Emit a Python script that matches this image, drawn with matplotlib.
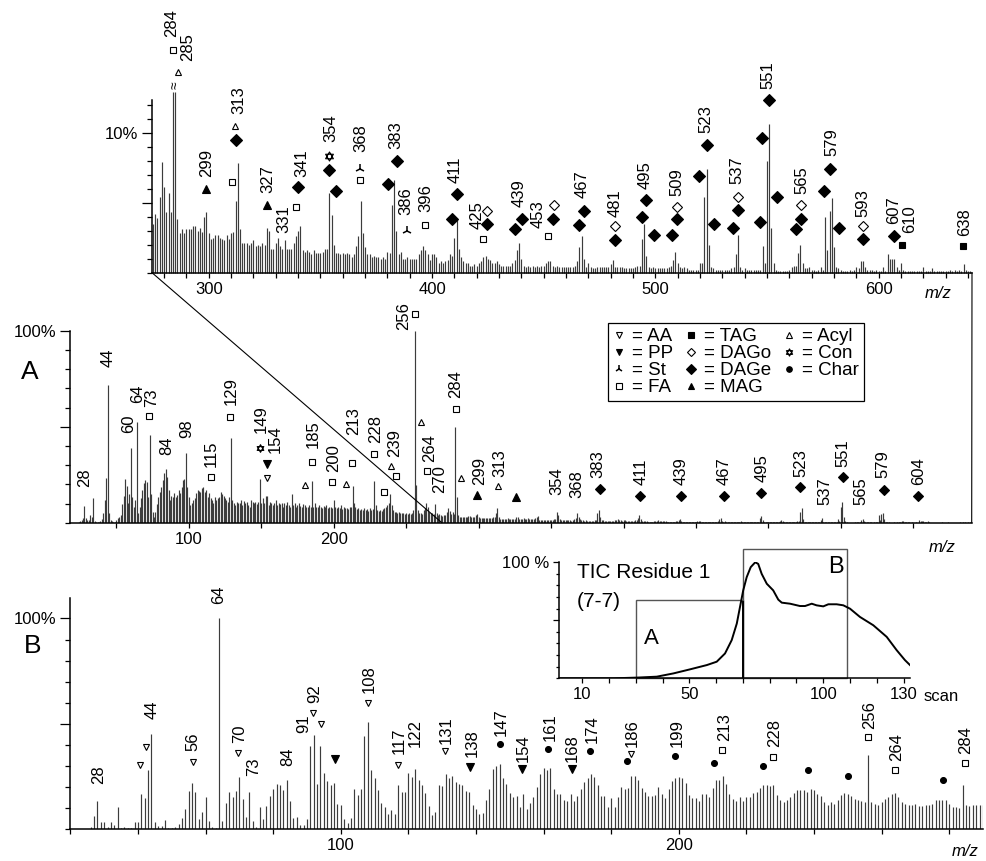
import numpy as np
import matplotlib
matplotlib.use("Agg")
import matplotlib.pyplot as plt
from matplotlib.lines import Line2D
from matplotlib.patches import ConnectionPatch, Rectangle
from matplotlib.path import Path
from matplotlib.ticker import MultipleLocator

plt.rcParams['font.family'] = ['Liberation Sans', 'DejaVu Sans']

# ---------------- data ----------------
# Spectrum A (scans 30-70), relative intensity (%) for m/z 24..274
mz_a_low_start = 24
int_a_low = [
    0.5, 0.8, 1.5, 2.5, 8.7, 2.3, 1.4, 1.5, 4.0, 3.0,
    13.0, 1.0, 0.5, 0.3, 0.5, 1.0, 2.0, 4.9, 11.8, 23.4,
    71.7, 4.9, 1.4, 1.0, 0.6, 0.5, 1.2, 2.3, 3.0, 4.0,
    10.0, 14.0, 23.0, 19.0, 10.4, 15.0, 39.0, 13.5, 8.3, 11.8,
    52.5, 4.9, 8.3, 12.7, 17.0, 20.5, 22.0, 21.4, 13.5, 45.7,
    15.0, 5.7, 3.1, 5.7, 10.0, 13.5, 16.0, 18.8, 22.2, 25.7,
    27.8, 24.0, 17.0, 11.8, 13.9, 13.5, 15.3, 13.5, 14.4, 17.0,
    15.3, 18.8, 22.2, 22.6, 36.1, 18.8, 13.5, 9.2, 10.1, 11.8,
    12.7, 15.3, 17.0, 16.7, 16.1, 17.9, 18.4, 16.1, 17.0, 13.5,
    15.3, 12.7, 11.8, 10.1, 13.5, 11.8, 12.7, 13.5, 16.1, 14.9,
    13.9, 12.7, 11.8, 10.9, 13.5, 44.3, 11.8, 10.1, 9.2, 10.9,
    10.1, 10.1, 11.8, 9.2, 11.5, 10.4, 10.9, 9.2, 8.3, 11.8,
    10.9, 10.5, 11.0, 9.8, 10.9, 22.6, 10.1, 12.7, 10.1, 13.9,
    14.0, 9.2, 10.9, 10.1, 9.2, 10.1, 11.8, 9.2, 10.1, 9.7,
    10.1, 8.3, 10.1, 9.2, 10.9, 9.2, 8.3, 14.9, 9.2, 10.1,
    8.3, 9.2, 10.1, 8.7, 8.3, 9.7, 9.2, 8.3, 8.0, 9.2,
    8.3, 21.9, 8.3, 10.1, 8.3, 8.0, 9.2, 8.3, 7.5, 8.7,
    8.0, 9.2, 7.5, 8.3, 8.0, 7.5, 11.8, 8.3, 7.5, 8.0,
    7.5, 9.2, 6.9, 8.0, 7.5, 7.5, 6.9, 8.0, 8.3, 19.0,
    10.1, 8.3, 6.9, 7.5, 6.6, 6.9, 6.6, 7.5, 6.6, 6.9,
    6.3, 7.5, 6.6, 6.9, 21.8, 9.2, 6.6, 6.3, 6.6, 6.3,
    6.9, 7.5, 8.3, 9.2, 10.1, 14.8, 9.2, 6.6, 5.7, 5.7,
    5.2, 5.7, 4.9, 5.2, 4.9, 4.5, 4.9, 4.5, 4.9, 4.5,
    5.2, 6.6, 100.0, 19.6, 6.6, 5.2, 4.9, 4.5, 6.6, 7.5,
    10.4, 8.3, 5.7, 4.9, 5.2, 4.5, 9.7, 4.9, 4.0, 4.5,
    4.0,
]
# Spectrum A continued, m/z 275..641 (also shown enlarged in the upper panel)
mz_a_high_start = 275
int_a_high = [
    3.5, 4.2, 3.9, 5.4, 7.9, 6.1, 4.3, 5.7, 4.3, 50.0,
    13.5, 3.8, 2.8, 3.1, 2.8, 3.1, 3.1, 3.1, 3.3, 3.3,
    3.0, 3.2, 2.9, 4.0, 4.3, 2.8, 2.4, 2.5, 2.7, 2.7,
    2.5, 2.4, 2.3, 2.7, 2.4, 2.8, 2.9, 5.1, 7.8, 3.1,
    2.1, 2.1, 2.1, 2.0, 2.1, 2.3, 1.9, 2.0, 1.9, 2.1,
    2.0, 3.2, 3.0, 1.7, 1.7, 2.1, 2.5, 1.9, 1.7, 2.3,
    1.7, 1.7, 1.7, 2.1, 2.6, 3.0, 3.3, 1.6, 1.5, 1.6,
    1.5, 1.3, 1.6, 1.4, 1.4, 1.4, 1.5, 1.7, 1.7, 5.7,
    4.1, 2.0, 1.4, 1.4, 1.3, 1.4, 1.3, 1.4, 1.3, 1.1,
    1.3, 1.9, 2.6, 5.1, 2.8, 1.8, 1.3, 1.3, 1.1, 1.2,
    1.1, 1.1, 1.0, 1.1, 1.0, 1.5, 1.4, 4.8, 6.6, 3.0,
    1.3, 1.5, 1.0, 1.0, 1.1, 1.0, 1.0, 1.0, 1.0, 1.3,
    1.6, 1.9, 1.6, 1.3, 0.9, 1.3, 1.3, 1.1, 0.7, 0.8,
    0.7, 0.8, 0.9, 1.3, 1.2, 2.5, 3.8, 1.7, 1.1, 0.8,
    0.7, 0.7, 0.5, 0.5, 0.6, 0.5, 0.7, 0.8, 1.1, 1.2,
    1.0, 0.9, 0.7, 0.7, 0.8, 0.6, 0.5, 0.5, 0.5, 0.5,
    0.5, 0.7, 0.9, 1.6, 2.1, 1.0, 0.5, 0.4, 0.5, 0.4,
    0.5, 0.4, 0.5, 0.4, 0.5, 0.5, 0.7, 0.8, 0.8, 0.5,
    0.4, 0.5, 0.4, 0.4, 0.4, 0.4, 0.4, 0.4, 0.4, 0.5,
    0.8, 1.8, 2.6, 1.0, 0.4, 0.7, 0.4, 0.3, 0.3, 0.4,
    0.4, 0.4, 0.4, 0.4, 0.4, 0.6, 0.9, 0.4, 0.4, 0.4,
    0.4, 0.3, 0.3, 0.3, 0.3, 0.3, 0.4, 0.5, 0.5, 2.4,
    3.5, 1.2, 0.4, 0.3, 0.4, 0.3, 0.3, 0.3, 0.3, 0.3,
    0.3, 0.4, 0.5, 0.9, 1.5, 0.7, 0.4, 0.3, 0.4, 0.3,
    0.2, 0.2, 0.2, 0.2, 0.2, 0.7, 0.7, 5.4, 7.4, 2.0,
    0.4, 0.3, 0.2, 0.2, 0.2, 0.2, 0.2, 0.2, 0.2, 0.3,
    0.4, 1.3, 2.7, 0.4, 0.2, 0.3, 0.2, 0.2, 0.2, 0.2,
    0.2, 0.2, 0.2, 1.9, 0.7, 8.0, 10.6, 3.2, 0.7, 0.2,
    0.1, 0.1, 0.1, 0.1, 0.1, 0.2, 0.4, 0.5, 0.5, 1.4,
    2.0, 0.7, 0.3, 0.3, 0.4, 0.2, 0.2, 0.1, 0.2, 0.4,
    0.2, 4.0, 1.6, 4.4, 5.3, 1.8, 0.4, 0.3, 0.2, 0.1,
    0.1, 0.1, 0.2, 0.1, 0.2, 0.4, 0.3, 0.8, 0.8, 0.4,
    0.2, 0.2, 0.2, 0.1, 0.2, 0.1, 0.1, 0.4, 0.1, 1.3,
    1.0, 1.0, 1.0, 0.4, 0.2, 0.7, 0.2, 0.1, 0.1, 0.1,
    0.1, 0.1, 0.1, 0.1, 0.1, 0.4, 0.1, 0.1, 0.1, 0.3,
    0.1, 0.1, 0.1, 0.1, 0.1, 0.1, 0.1, 0.2, 0.1, 0.2,
    0.1, 0.2, 0.1, 0.6, 0.2, 0.1, 0.1,
]
# Spectrum B (scans 70-110), relative intensity (%) for m/z 26..290
mz_b_start = 26
int_b = [
    0.6, 6.0, 13.0, 3.1, 3.1, 0.9, 3.0, 1.9, 10.1, 0.5,
    0.9, 0.3, 0.3, 3.1, 3.3, 16.4, 14.6, 28.1, 45.0, 3.0,
    1.3, 1.3, 4.1, 0.3, 0.5, 0.6, 2.2, 4.9, 9.3, 17.9,
    21.9, 17.5, 4.7, 7.9, 15.1, 3.8, 0.6, 0.3, 100.0, 3.8,
    12.3, 17.6, 15.1, 17.8, 24.8, 14.2, 5.7, 17.3, 3.6, 0.6,
    10.5, 4.4, 11.0, 15.4, 18.7, 21.1, 20.6, 18.2, 23.0, 13.2,
    5.3, 5.7, 1.6, 1.6, 4.4, 39.5, 44.7, 21.5, 39.5, 26.7,
    22.5, 20.6, 21.7, 11.9, 11.2, 4.6, 2.5, 5.2, 18.7, 15.9,
    19.0, 44.0, 50.8, 28.1, 23.9, 18.2, 12.4, 10.1, 6.8, 8.8,
    6.9, 20.6, 17.5, 17.5, 26.4, 24.8, 28.5, 23.3, 20.6, 17.1,
    10.8, 6.4, 8.0, 20.6, 20.1, 25.8, 24.2, 25.0, 22.2, 21.4,
    20.6, 17.9, 17.5, 11.5, 9.6, 7.2, 7.5, 13.5, 19.0, 28.5,
    30.0, 30.8, 24.2, 21.4, 17.1, 15.1, 15.6, 10.4, 16.7, 9.6,
    12.3, 15.1, 19.8, 26.1, 28.8, 28.0, 28.8, 19.0, 16.4, 16.4,
    13.5, 13.2, 16.7, 13.2, 15.4, 19.0, 22.2, 24.2, 25.8, 24.8,
    20.6, 15.6, 15.6, 10.4, 14.8, 10.1, 15.1, 19.8, 19.0, 19.5,
    25.0, 25.0, 23.0, 19.5, 17.5, 15.4, 15.4, 15.9, 19.8, 16.7,
    14.8, 19.0, 22.6, 24.1, 24.8, 24.1, 21.9, 15.9, 14.8, 14.8,
    13.2, 16.4, 16.7, 15.1, 19.5, 23.3, 23.0, 25.3, 21.4, 16.7,
    14.3, 13.2, 15.1, 13.2, 15.1, 15.1, 17.1, 17.5, 19.5, 20.6,
    20.6, 20.1, 20.6, 15.9, 13.5, 12.7, 13.5, 15.1, 17.0, 18.6,
    18.6, 18.2, 17.5, 19.0, 18.6, 16.7, 15.4, 12.7, 11.2, 12.7,
    11.9, 13.5, 15.9, 17.1, 16.4, 15.6, 14.3, 13.5, 13.0, 12.8,
    35.2, 12.7, 11.9, 11.2, 12.7, 14.3, 15.1, 16.4, 17.1, 15.1,
    12.7, 11.9, 11.2, 11.2, 11.9, 10.8, 10.8, 11.2, 11.5, 11.9,
    13.5, 13.5, 13.8, 13.5, 11.9, 10.4, 10.4, 9.9, 20.6, 11.2,
    10.8, 11.2, 11.2, 11.2, 11.2,
]
# Total ion current of residue 1
tic_scan = [1.4, 21.6, 30.4, 37.8, 44.0, 50.2, 56.5, 60.2, 63.3, 65.8, 67.7,
            68.9, 70.1, 71.4, 72.9, 74.6, 75.7, 77.0, 78.9, 81.3, 83.2, 84.5,
            87.6, 91.3, 93.2, 95.7, 97.5, 100.0, 101.9, 105.0, 107.5, 110.0,
            113.7, 118.7, 123.7, 127.4, 130.5, 132.4]
tic_pct = [0, 0, 0.6, 1.4, 4.2, 7.7, 11.4, 14.3, 21.4, 32.9, 47.2,
           61.5, 75.8, 87.2, 95.8, 100, 98.6, 90.0, 81.5, 75.8, 67.8, 65.2,
           64.3, 62.3, 62.3, 64.3, 62.9, 62.0, 63.8, 63.8, 62.9, 60.0,
           52.9, 45.7, 35.7, 24.3, 15.7, 11.4]
window_a = (30, 70)
window_b = (70, 109)

# compound classes shown in the key
class_names = ['AA', 'PP', 'St', 'FA', 'TAG', 'DAGo', 'DAGe', 'MAG', 'Acyl', 'Con', 'Char']

# ---------------- peak annotations (label, m/z position, height %) ----------------
labels_zoom = [("284", 283.4, 16.8), ("285", 290.7, 15.1), ("299", 299.2, 6.8),
               ("313", 313.5, 11.3), ("327", 326.4, 5.7), ("331", 333.7, 2.8),
               ("341", 341.6, 6.8), ("354", 354.7, 9.3), ("368", 368.2, 8.6),
               ("383", 383.8, 8.8), ("386", 388.3, 4.1), ("396", 397.1, 4.3),
               ("411", 410.2, 6.4), ("425", 420.0, 3.1), ("439", 439.0, 4.7),
               ("453", 447.6, 3.2), ("467", 467.0, 5.3), ("481", 481.9, 4.0),
               ("495", 495.3, 6.0), ("509", 509.5, 5.5), ("523", 522.7, 10.0),
               ("537", 536.7, 6.3), ("551", 550.6, 13.1), ("565", 565.5, 5.6),
               ("579", 578.9, 8.3), ("593", 593.1, 4.0), ("607", 606.5, 3.5),
               ("610", 613.7, 2.8), ("638", 638.6, 2.6)]
marks_zoom = [('FA', 284.2, 15.9), ('Acyl', 286.2, 14.3),
              ('Acyl', 311.9, 10.5), ('DAGe', 312.1, 9.5), ('FA', 310.4, 6.5),
              ('MAG', 299.0, 6.0), ('MAG', 326.1, 4.8),
              ('DAGe', 340.1, 6.1), ('FA', 339.0, 4.7),
              ('Con', 354.0, 8.3), ('DAGe', 353.7, 7.3), ('DAGe', 357.0, 5.8),
              ('St', 367.7, 7.4), ('FA', 367.7, 6.6),
              ('DAGe', 384.2, 8.0), ('DAGe', 380.1, 6.3),
              ('St', 388.7, 3.0), ('FA', 396.9, 3.4),
              ('DAGe', 411.4, 5.6), ('DAGe', 409.1, 3.8),
              ('DAGo', 424.5, 4.4), ('DAGe', 424.5, 3.5), ('FA', 422.6, 2.4),
              ('DAGe', 440.2, 3.8), ('DAGe', 437.2, 3.1),
              ('DAGo', 454.4, 4.8), ('DAGe', 454.1, 3.8), ('FA', 451.9, 2.6),
              ('DAGe', 468.1, 4.4), ('DAGe', 466.0, 3.4),
              ('DAGo', 482.0, 3.3), ('DAGe', 482.0, 2.3),
              ('DAGe', 495.9, 5.2), ('DAGe', 494.0, 4.0), ('DAGe', 499.2, 2.7),
              ('DAGo', 509.5, 4.7), ('DAGe', 509.5, 3.8), ('DAGe', 507.5, 2.7),
              ('DAGe', 523.0, 9.1), ('DAGe', 519.5, 6.9), ('DAGe', 526.2, 3.5),
              ('DAGo', 536.8, 5.4), ('DAGe', 536.8, 4.5), ('DAGe', 534.9, 3.2),
              ('DAGe', 550.9, 12.3), ('DAGe', 547.6, 9.6), ('DAGe', 554.6, 5.4),
              ('DAGe', 546.8, 3.6),
              ('DAGo', 565.1, 4.8), ('DAGe', 565.2, 3.8), ('DAGe', 562.8, 3.1),
              ('DAGe', 578.2, 7.4), ('DAGe', 575.6, 5.8), ('DAGe', 582.2, 3.2),
              ('DAGo', 593.1, 3.3), ('DAGe', 593.1, 2.4),
              ('DAGe', 606.8, 2.6), ('TAG', 610.3, 2.0), ('TAG', 637.9, 1.9)]

labels_a = [("28", 28.4, 18.8), ("44", 44.0, 81.3), ("60", 58.2, 46.5), ("64", 64.4, 62.3),
            ("73", 74.3, 60.3), ("84", 84.7, 35.3), ("98", 98.9, 43.9), ("115", 115.7, 29.2),
            ("129", 129.0, 61.3), ("149", 150.2, 46.5), ("154", 159.4, 36.1),
            ("185", 185.8, 38.7), ("200", 199.6, 26.6), ("213", 213.4, 45.7),
            ("228", 228.8, 41.4), ("239", 241.7, 34.4), ("256", 248.5, 100.4),
            ("264", 266.3, 31.8), ("270", 273.2, 15.3), ("284", 284.2, 64.8),
            ("299", 300.8, 19.6), ("313", 314.6, 24.0), ("354", 354.1, 14.4),
            ("368", 367.9, 12.7), ("383", 382.3, 23.1), ("411", 412.3, 19.6),
            ("439", 439.9, 19.6), ("467", 469.7, 19.6), ("495", 495.4, 21.4),
            ("523", 522.6, 24.0), ("537", 538.9, 9.2), ("551", 551.3, 29.2),
            ("565", 564.0, 9.2), ("579", 578.9, 23.1), ("604", 603.7, 19.6)]
marks_a = [('FA', 72.7, 55.6), ('FA', 115.2, 24.0), ('FA', 128.3, 54.9), ('Con', 149.0, 38.7),
           ('PP', 153.7, 30.4), ('AA', 153.7, 23.1), ('FA', 185.1, 31.8), ('Acyl', 180.1, 19.6),
           ('FA', 198.9, 21.4), ('FA', 212.7, 31.3), ('Acyl', 208.8, 20.0), ('FA', 228.1, 35.8),
           ('Acyl', 239.2, 29.7), ('FA', 243.3, 24.5), ('FA', 234.8, 16.1), ('FA', 256.4, 108.7),
           ('Acyl', 259.9, 52.3), ('FA', 264.4, 26.9), ('FA', 284.2, 59.2), ('Acyl', 288.1, 23.1),
           ('MAG', 298.9, 14.4), ('Acyl', 313.4, 19.1), ('MAG', 326.1, 13.5),
           ('DAGe', 383.5, 17.6), ('DAGe', 411.6, 14.1), ('DAGe', 439.6, 14.1),
           ('DAGe', 469.2, 14.1), ('DAGe', 495.0, 15.6), ('DAGe', 521.9, 18.8),
           ('DAGe', 551.3, 24.0), ('DAGe', 579.6, 17.0), ('DAGe', 603.3, 14.1)]

labels_b = [("28", 28.3, 21.4), ("44", 44.1, 52.1), ("56", 56.2, 37.1), ("64", 64.0, 107.1),
            ("70", 70.2, 41.0), ("73", 74.1, 25.3), ("84", 84.2, 29.6), ("91", 89.1, 45.3),
            ("92", 92.4, 59.9), ("108", 108.5, 64.6), ("117", 117.3, 35.6), ("122", 122.0, 38.7),
            ("131", 131.2, 40.3), ("138", 138.8, 34.0), ("147", 147.6, 44.2), ("154", 154.0, 31.6),
            ("161", 161.9, 41.8), ("168", 168.6, 31.6), ("174", 174.3, 41.0), ("186", 186.1, 38.7),
            ("199", 199.4, 38.7), ("213", 213.7, 41.8), ("228", 228.5, 38.7), ("256", 256.6, 47.4),
            ("264", 264.5, 32.4), ("284", 285.0, 35.6)]
marks_b = [('AA', 40.6, 30.5), ('AA', 42.3, 38.7), ('AA', 56.2, 31.6), ('AA', 69.7, 35.8),
           ('AA', 91.9, 54.9), ('AA', 94.1, 50.0), ('PP', 98.3, 33.2), ('AA', 108.0, 59.6),
           ('AA', 116.9, 30.5), ('AA', 130.7, 37.1), ('PP', 138.3, 29.2), ('Char', 147.1, 40.3),
           ('PP', 153.6, 28.5), ('Char', 161.4, 37.9), ('PP', 168.3, 28.5), ('Char', 173.8, 37.1),
           ('Char', 184.6, 32.1), ('AA', 186.0, 35.3), ('Char', 198.9, 34.8), ('FA', 212.7, 37.6),
           ('Char', 210.5, 31.1), ('FA', 228.0, 34.0), ('Char', 224.9, 29.7), ('Char', 238.2, 27.7),
           ('Char', 250.0, 25.3), ('FA', 256.1, 43.4), ('FA', 264.0, 27.7), ('Char', 278.1, 23.4),
           ('FA', 284.7, 31.1)]

# ---------------- styling helpers ----------------
W, H = 987, 861
BAR_C = '#3c3c3c'
LABEL_FS = 12
TICK_FS = 12

# six-pointed star (two interlaced triangles) for the "Con" class
_c, _s = 0.866, 0.5
hexagram = Path([(0, 1), (-_c, -_s), (_c, -_s), (0, 1),
                 (0, -1), (-_c, _s), (_c, _s), (0, -1)],
                [Path.MOVETO, Path.LINETO, Path.LINETO, Path.CLOSEPOLY,
                 Path.MOVETO, Path.LINETO, Path.LINETO, Path.CLOSEPOLY])

STYLE = {
    'AA':   dict(marker='v', mfc='white', mec='k', ms=5.0, mew=0.8),
    'PP':   dict(marker='v', mfc='k', mec='k', ms=6.0, mew=0.8),
    'St':   dict(marker='2', mfc='k', mec='k', ms=7.0, mew=1.1),
    'FA':   dict(marker='s', mfc='white', mec='k', ms=4.8, mew=0.8),
    'TAG':  dict(marker='s', mfc='k', mec='k', ms=4.8, mew=0.8),
    'DAGo': dict(marker='D', mfc='white', mec='k', ms=5.0, mew=0.8),
    'DAGe': dict(marker='D', mfc='k', mec='k', ms=6.0, mew=0.8),
    'MAG':  dict(marker='^', mfc='k', mec='k', ms=6.0, mew=0.8),
    'Acyl': dict(marker='^', mfc='white', mec='k', ms=5.0, mew=0.8),
    'Con':  dict(marker=hexagram, mfc='white', mec='k', ms=6.5, mew=0.8),
    'Char': dict(marker='o', mfc='k', mec='k', ms=5.0, mew=0.8),
}


def put_mark(ax, kind, x, y, scale=1.0):
    st = dict(STYLE[kind])
    st['ms'] = st['ms'] * scale
    ax.plot([x], [y], linestyle='none', clip_on=False, zorder=5, **st)


def put_labels(ax, labels):
    for txt, x, y in labels:
        ax.text(x, y, txt, rotation=90, ha='center', va='bottom',
                fontsize=LABEL_FS, clip_on=False, zorder=6)


def frame(ax):
    for s in ('top', 'right'):
        ax.spines[s].set_visible(False)
    for s in ('left', 'bottom'):
        ax.spines[s].set_linewidth(1.1)
    ax.set_facecolor('none')
    ax.tick_params(which='both', direction='out', width=0.9, labelsize=TICK_FS, pad=3)
    ax.tick_params(axis='y', which='major', length=7)
    ax.tick_params(axis='y', which='minor', length=3.5)
    ax.tick_params(axis='x', which='major', length=3.5)
    ax.tick_params(axis='x', which='minor', length=3.5)


def rect(x0, y0, x1, y1):
    return [x0 / W, 1 - y1 / H, (x1 - x0) / W, (y1 - y0) / H]


fig = plt.figure(figsize=(W / 100, H / 100), dpi=100)

mz_lo = np.arange(mz_a_low_start, mz_a_low_start + len(int_a_low))
mz_hi = np.arange(mz_a_high_start, mz_a_high_start + len(int_a_high))
mz_b = np.arange(mz_b_start, mz_b_start + len(int_b))
ia_lo = np.array(int_a_low)
ia_hi = np.array(int_a_high)
ib = np.array(int_b)

# ---------------- enlarged part of spectrum A ----------------
axz = fig.add_axes(rect(152, 100, 972, 272.7))
frame(axz)
zoom_lo, zoom_hi = 274.6, 641.8
break_level = 12.9
axz.set_xlim(zoom_lo, zoom_hi)
axz.set_ylim(0, 12.33)
axz.vlines(mz_hi, 0, np.minimum(ia_hi, break_level), color=BAR_C, lw=0.85, clip_on=False)
axz.set_xticks([300, 400, 500, 600])
axz.xaxis.set_minor_locator(MultipleLocator(10))
axz.set_yticks([5, 10])
axz.set_yticklabels(['', '10%'])
axz.yaxis.set_minor_locator(MultipleLocator(1))
axz.text(284.7, 13.4, '\u2248', rotation=90, ha='center', va='center', fontsize=10, clip_on=False)
put_labels(axz, labels_zoom)
for k, x, y in marks_zoom:
    put_mark(axz, k, x, y, 1.0)

# ---------------- spectrum A ----------------
axa = fig.add_axes(rect(70, 330.7, 971.7, 522.7))
frame(axa)
axa.set_xlim(18.0, 640.3)
axa.set_ylim(0, 100)
axa.vlines(mz_lo, 0, ia_lo, color=BAR_C, lw=0.85)
axa.vlines(mz_hi, 0, ia_hi, color=BAR_C, lw=0.85)
axa.set_xticks([100, 200])
axa.xaxis.set_minor_locator(MultipleLocator(50))
axa.set_yticks([50, 100])
axa.set_yticklabels(['', '100%'])
axa.yaxis.set_minor_locator(MultipleLocator(10))
put_labels(axa, labels_a)
for k, x, y in marks_a:
    put_mark(axa, k, x, y, 0.85)

# lines linking the enlarged window to its place in spectrum A
for xyA, xyB, cB in [((0, 0), (zoom_lo, 0), axa.transData), ((1, 0), (1, 0), axa.transAxes)]:
    con = ConnectionPatch(xyA=xyA, coordsA=axz.transAxes, xyB=xyB, coordsB=cB,
                          color='k', lw=0.8, zorder=1)
    fig.add_artist(con)

# key of compound classes
handles = []
for name in class_names:
    st = dict(STYLE[name])
    st['ms'] = st['ms'] * 0.8
    handles.append(Line2D([], [], linestyle='none', **st))
leg = fig.legend(handles, ['= ' + n for n in class_names], ncol=3,
                 loc='upper left', bbox_to_anchor=(607.7 / W, 1 - 323.3 / H),
                 fontsize=13.5, frameon=True, fancybox=False, edgecolor='k', framealpha=1,
                 borderpad=0.25, labelspacing=0.0, handlelength=0.7, handletextpad=0.35,
                 columnspacing=0.6, borderaxespad=0)
leg.get_frame().set_linewidth(0.9)

# ---------------- spectrum B ----------------
axb = fig.add_axes(rect(70, 598.3, 983, 828.7))
frame(axb)
axb.set_xlim(19.9, 290.0)
axb.set_ylim(0, 109.6)
axb.vlines(mz_b, 0, ib, color=BAR_C, lw=0.85)
axb.set_xticks([100, 200])
axb.xaxis.set_minor_locator(MultipleLocator(20))
axb.set_yticks([50, 100])
axb.set_yticklabels(['', '100%'])
axb.yaxis.set_minor_locator(MultipleLocator(10))
put_labels(axb, labels_b)
for k, x, y in marks_b:
    put_mark(axb, k, x, y, 0.85)

# ---------------- TIC inset ----------------
axt = fig.add_axes(rect(559.3, 561.7, 910, 678.3))
frame(axt)
axt.set_xlim(1.4, 132.4)
axt.set_ylim(0, 100.5)
axt.plot(tic_scan, tic_pct, color='k', lw=1.4, solid_joinstyle='round')
axt.set_xticks([10, 50, 100, 130])
axt.xaxis.set_minor_locator(MultipleLocator(10))
axt.set_yticks([50, 100])
axt.set_yticklabels(['', '100 %'])
axt.yaxis.set_minor_locator(MultipleLocator(10))
axt.tick_params(axis='y', which='major', length=4)
axt.tick_params(axis='y', which='minor', length=2)
axt.tick_params(axis='both', labelsize=12)
axt.add_patch(Rectangle((window_a[0], 0), window_a[1] - window_a[0], 67.2,
                        fill=False, ec='#555555', lw=1.0, clip_on=False))
axt.add_patch(Rectangle((window_b[0], 0), window_b[1] - window_b[0], 111.5,
                        fill=False, ec='#555555', lw=1.0, clip_on=False))
axt.plot([window_a[1], window_a[1]], [0, 66], color='k', lw=1.4)
axt.text(35.9, 34.6, 'A', fontsize=16, ha='center', va='center')
axt.text(104.7, 95.7, 'B', fontsize=17, ha='center', va='center', clip_on=False)
fig.text(576.7 / W, 1 - 573 / H, 'TIC Residue 1', fontsize=15, ha='left', va='center')
fig.text(576.7 / W, 1 - 601.7 / H, '(7-7)', fontsize=15, ha='left', va='center')
fig.text(941.7 / W, 1 - 696.7 / H, 'scan', fontsize=12, ha='center', va='center')

# ---------------- axis titles and panel letters ----------------
for x, y in [(938, 293), (942, 548), (965, 852)]:
    fig.text(x / W, 1 - y / H, 'm/z', fontsize=12, style='italic', ha='center', va='center')
fig.text(30 / W, 1 - 372 / H, 'A', fontsize=19, ha='center', va='center')
fig.text(33 / W, 1 - 646 / H, 'B', fontsize=19, ha='center', va='center')

fig.savefig('out.png', dpi=100)
